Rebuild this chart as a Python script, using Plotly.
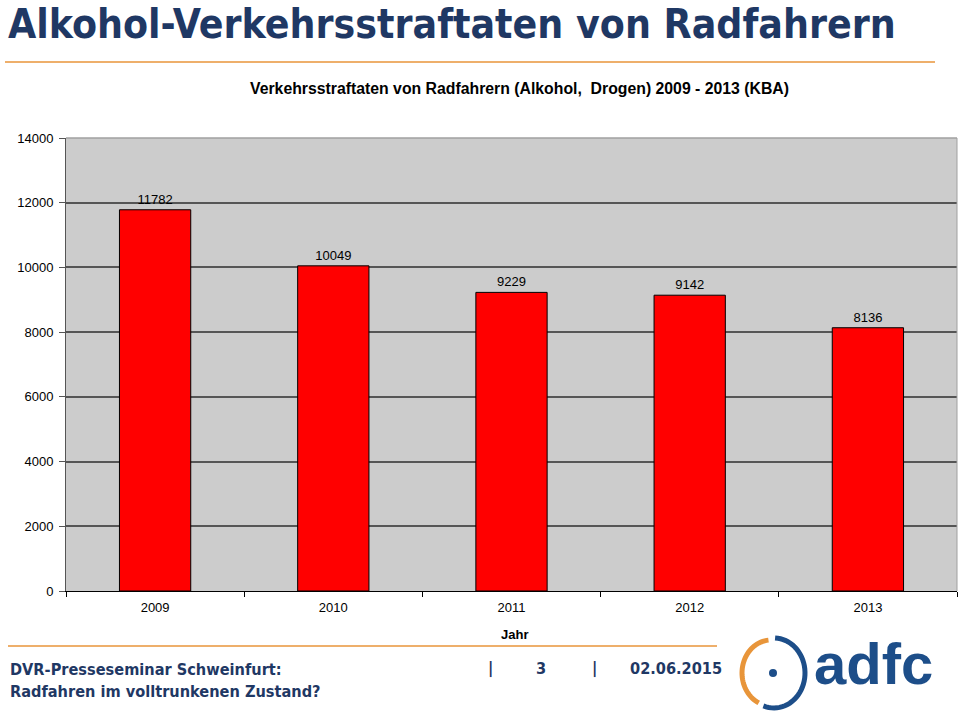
import numpy as np
import plotly.graph_objects as go

years = ["2009", "2010", "2011", "2012", "2013"]
values = [11782, 10049, 9229, 9142, 8136]
y_ticks = [0, 2000, 4000, 6000, 8000, 10000, 12000, 14000]

W, H = 960, 722
L, R, T, B = 66, 3, 138, 131
PW, PH = W - L - R, H - T - B

def px(x):
    return (x - L) / PW

def py(y):
    return (H - B - y) / PH

COND = "DejaVu Sans Condensed, Liberation Sans, sans-serif"
SANS = "Liberation Sans, Arial, sans-serif"

fig = go.Figure()
fig.add_trace(go.Bar(
    x=years, y=values, width=0.4,
    marker=dict(color="#FF0000", line=dict(color="#000000", width=1)),
    text=[str(v) for v in values], textposition="outside",
    textfont=dict(family=SANS, size=13, color="#000000"),
    cliponaxis=False,
))

navy = "#1F3864"
orange = "#E8953A"
blue = "#1D4E89"

ann = []
ann.append(dict(text="<b>Alkohol-Verkehrsstraftaten von Radfahrern</b>", x=px(6), y=py(24),
                xref="paper", yref="paper", xanchor="left", yanchor="middle", showarrow=False,
                font=dict(family=COND, size=40.6, color=navy)))
ann.append(dict(text="<b>Verkehrsstraftaten von Radfahrern (Alkohol,  Drogen) 2009 - 2013 (KBA)</b>",
                x=px(519), y=py(88), xref="paper", yref="paper", xanchor="center", yanchor="middle",
                showarrow=False, font=dict(family=SANS, size=15.8, color="#000000")))
ann.append(dict(text="<b>Jahr</b>", x=px(514), y=py(634), xref="paper", yref="paper",
                xanchor="center", yanchor="middle", showarrow=False,
                font=dict(family=SANS, size=13, color="#000000")))
ann.append(dict(text="<b>DVR-Presseseminar Schweinfurt:</b>", x=px(8), y=py(669), xref="paper", yref="paper",
                xanchor="left", yanchor="middle", showarrow=False,
                font=dict(family=COND, size=16.2, color=navy)))
ann.append(dict(text="<b>Radfahren im volltrunkenen Zustand?</b>", x=px(8), y=py(691), xref="paper", yref="paper",
                xanchor="left", yanchor="middle", showarrow=False,
                font=dict(family=COND, size=16.2, color=navy)))
for t, xx in [("|", 490), ("3", 541), ("|", 594), ("02.06.2015", 676)]:
    ann.append(dict(text="<b>" + t + "</b>", x=px(xx), y=py(668), xref="paper", yref="paper",
                    xanchor="center", yanchor="middle", showarrow=False,
                    font=dict(family=COND, size=16.2, color=navy)))
ann.append(dict(text="<b>adfc</b>", x=px(873), y=py(663), xref="paper", yref="paper",
                xanchor="center", yanchor="middle", showarrow=False,
                font=dict(family=SANS, size=58, color=blue)))

shapes = []
shapes.append(dict(type="line", xref="paper", yref="paper", x0=px(5), x1=px(935), y0=py(62), y1=py(62),
                   line=dict(color=orange, width=1.5)))
shapes.append(dict(type="line", xref="paper", yref="paper", x0=px(8), x1=px(717), y0=py(646), y1=py(646),
                   line=dict(color=orange, width=1.5)))
# lighter top & right plot borders
shapes.append(dict(type="line", xref="paper", yref="paper", x0=0, x1=1, y0=1, y1=1,
                   line=dict(color="#A0A0A0", width=1.5)))
shapes.append(dict(type="line", xref="paper", yref="paper", x0=1, x1=1, y0=0, y1=1,
                   line=dict(color="#A0A0A0", width=1)))

# logo arcs
cx, cy, rx, ry = 773, 673, 31, 34

def arc(a0, a1, rxx, ryy, ox=0):
    a = np.radians(np.linspace(a0, a1, 40))
    pts = ["%s%.5f,%.5f" % ("M" if i == 0 else "L", px(cx + ox + rxx * np.cos(t)), py(cy - ryy * np.sin(t)))
           for i, t in enumerate(a)]
    return " ".join(pts)

shapes.append(dict(type="path", xref="paper", yref="paper", path=arc(-110, 88, rx, ry + 1, 1),
                   line=dict(color=blue, width=5)))
shapes.append(dict(type="path", xref="paper", yref="paper", path=arc(95, 245, rx - 2, ry - 1, -2),
                   line=dict(color=orange, width=5)))
shapes.append(dict(type="circle", xref="paper", yref="paper", x0=px(cx - 4), x1=px(cx + 4),
                   y0=py(cy - 4), y1=py(cy + 4), fillcolor=blue, line=dict(width=0)))

fig.update_layout(
    width=W, height=H,
    margin=dict(l=L, r=R, t=T, b=B),
    paper_bgcolor="#FFFFFF", plot_bgcolor="#CCCCCC",
    showlegend=False,
    annotations=ann, shapes=shapes,
    xaxis=dict(type="category", tickson="boundaries", ticks="outside", ticklen=5, tickcolor="#000000",
               showline=True, linecolor="#000000", linewidth=1, showgrid=False, ticklabelstandoff=4,
               tickfont=dict(family=SANS, size=13, color="#000000")),
    yaxis=dict(range=[0, 14000], tickvals=y_ticks, ticktext=[str(v) for v in y_ticks],
               ticks="outside", ticklen=6, tickcolor="#555555",
               showline=True, linecolor="#555555", linewidth=1, ticklabelstandoff=3,
               showgrid=True, gridcolor="#555555", gridwidth=1.5, zeroline=False,
               tickfont=dict(family=SANS, size=13, color="#000000")),
    bargap=0.6,
)
fig.write_html("out.html", config={"displayModeBar": False},
               post_script="document.body.style.margin='0';document.body.style.overflow='hidden';")
